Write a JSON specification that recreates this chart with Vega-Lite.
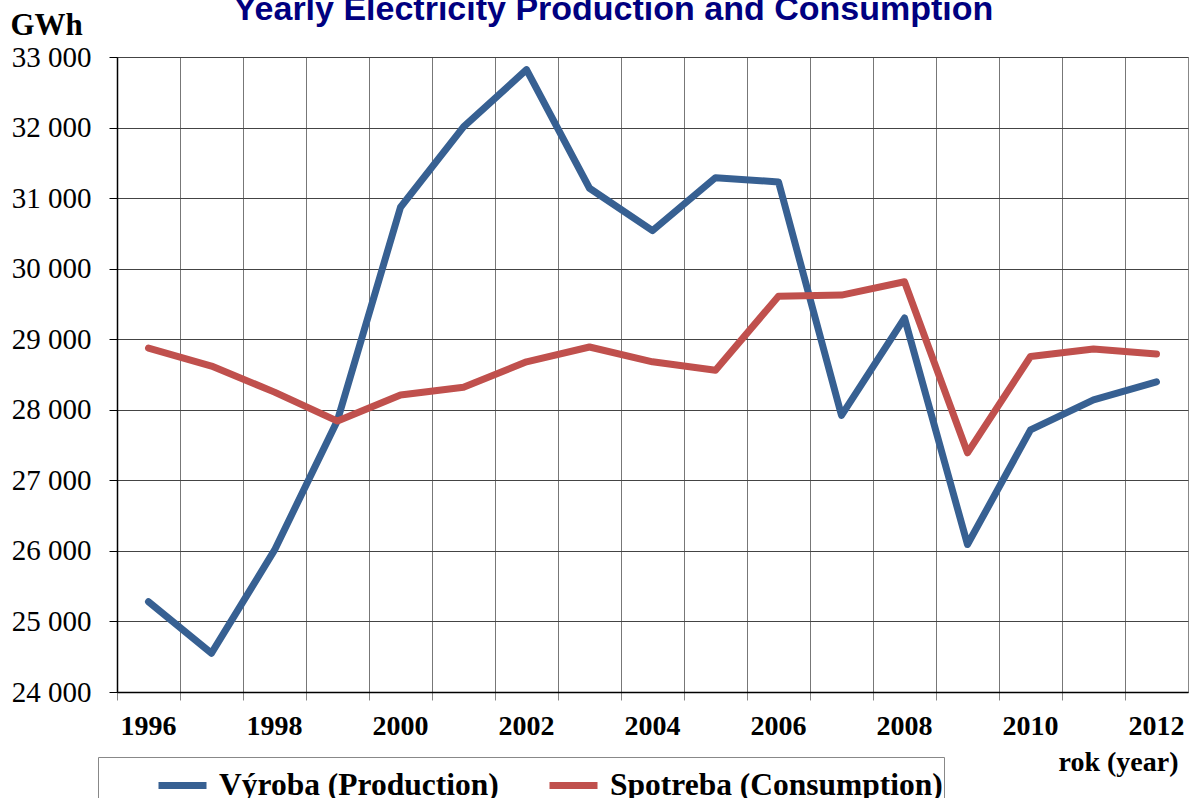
{
  "$schema": "https://vega.github.io/schema/vega-lite/v6.json",
  "width": 1071,
  "height": 635,
  "autosize": {"type": "none"},
  "padding": {"left": 117, "top": 57, "right": 1, "bottom": 106},
  "background": "white",
  "config": {
    "view": {"stroke": "#888888", "strokeWidth": 1}
  },
  "title": {
    "text": "Yearly Electricity Production and Consumption",
    "font": "Liberation Sans, Arial, sans-serif",
    "fontSize": 34,
    "fontWeight": "bold",
    "color": "#000080",
    "anchor": "middle",
    "dx": -39,
    "baseline": "alphabetic",
    "offset": -45
  },
  "data": {
    "values": [
      {"year": 1996, "series": "Výroba (Production)", "value": 25280},
      {"year": 1997, "series": "Výroba (Production)", "value": 24550},
      {"year": 1998, "series": "Výroba (Production)", "value": 26010},
      {"year": 1999, "series": "Výroba (Production)", "value": 27850},
      {"year": 2000, "series": "Výroba (Production)", "value": 30870},
      {"year": 2001, "series": "Výroba (Production)", "value": 32010},
      {"year": 2002, "series": "Výroba (Production)", "value": 32820},
      {"year": 2003, "series": "Výroba (Production)", "value": 31140},
      {"year": 2004, "series": "Výroba (Production)", "value": 30540},
      {"year": 2005, "series": "Výroba (Production)", "value": 31290},
      {"year": 2006, "series": "Výroba (Production)", "value": 31230},
      {"year": 2007, "series": "Výroba (Production)", "value": 27920},
      {"year": 2008, "series": "Výroba (Production)", "value": 29300},
      {"year": 2009, "series": "Výroba (Production)", "value": 26090},
      {"year": 2010, "series": "Výroba (Production)", "value": 27715},
      {"year": 2011, "series": "Výroba (Production)", "value": 28140},
      {"year": 2012, "series": "Výroba (Production)", "value": 28395},
      {"year": 1996, "series": "Spotreba (Consumption)", "value": 28875},
      {"year": 1997, "series": "Spotreba (Consumption)", "value": 28620},
      {"year": 1998, "series": "Spotreba (Consumption)", "value": 28250},
      {"year": 1999, "series": "Spotreba (Consumption)", "value": 27840},
      {"year": 2000, "series": "Spotreba (Consumption)", "value": 28210},
      {"year": 2001, "series": "Spotreba (Consumption)", "value": 28320},
      {"year": 2002, "series": "Spotreba (Consumption)", "value": 28680},
      {"year": 2003, "series": "Spotreba (Consumption)", "value": 28890},
      {"year": 2004, "series": "Spotreba (Consumption)", "value": 28680},
      {"year": 2005, "series": "Spotreba (Consumption)", "value": 28560},
      {"year": 2006, "series": "Spotreba (Consumption)", "value": 29610},
      {"year": 2007, "series": "Spotreba (Consumption)", "value": 29626},
      {"year": 2008, "series": "Spotreba (Consumption)", "value": 29815},
      {"year": 2009, "series": "Spotreba (Consumption)", "value": 27390},
      {"year": 2010, "series": "Spotreba (Consumption)", "value": 28755},
      {"year": 2011, "series": "Spotreba (Consumption)", "value": 28860},
      {"year": 2012, "series": "Spotreba (Consumption)", "value": 28790}
    ]
  },
  "mark": {"type": "line", "strokeWidth": 7, "strokeCap": "round", "strokeJoin": "round"},
  "encoding": {
    "x": {
      "field": "year",
      "type": "ordinal",
      "scale": {"type": "band", "paddingInner": 0, "paddingOuter": 0},
      "axis": {
        "bandPosition": 0,
        "labelExpr": "datum.value % 2 == 0 ? datum.label : ''",
        "labelOverlap": false,
        "labelBound": false,
        "labelAngle": 0,
        "labelFont": "Liberation Serif, Times New Roman, serif",
        "labelFontSize": 28,
        "labelFontWeight": "bold",
        "labelColor": "#000000",
        "labelPadding": 12,
        "tickSize": 8,
        "tickColor": "#888888",
        "grid": true,
        "gridColor": "#777777",
        "gridWidth": 1,
        "domainColor": "#000000",
        "domainWidth": 1.5,
        "title": "rok (year)",
        "titleFont": "Liberation Serif, Times New Roman, serif",
        "titleFontSize": 28,
        "titleFontWeight": "bold",
        "titleColor": "#000000",
        "titleAlign": "right",
        "titleBaseline": "alphabetic",
        "titleAnchor": null,
        "titleX": 1061,
        "titleY": 78
      }
    },
    "y": {
      "field": "value",
      "type": "quantitative",
      "scale": {"domain": [24000, 33000], "nice": false, "zero": false},
      "axis": {
        "values": [24000, 25000, 26000, 27000, 28000, 29000, 30000, 31000, 32000, 33000],
        "labelExpr": "replace(format(datum.value, ','), ',', ' ')",
        "labelFont": "Liberation Serif, Times New Roman, serif",
        "labelFontSize": 29,
        "labelColor": "#000000",
        "labelPadding": 18,
        "tickSize": 8,
        "tickColor": "#000000",
        "grid": true,
        "gridColor": "#444444",
        "gridWidth": 1,
        "domainColor": "#000000",
        "domainWidth": 1.5,
        "title": "GWh",
        "titleFont": "Liberation Serif, Times New Roman, serif",
        "titleFontSize": 31,
        "titleFontWeight": "bold",
        "titleColor": "#000000",
        "titleAngle": 0,
        "titleAlign": "left",
        "titleBaseline": "middle",
        "titleAnchor": null,
        "titleX": -107,
        "titleY": -32
      }
    },
    "color": {
      "field": "series",
      "type": "nominal",
      "scale": {
        "domain": ["Výroba (Production)", "Spotreba (Consumption)"],
        "range": ["#376092", "#C0504D"]
      },
      "legend": {
        "title": "\u2003",
        "titleOrient": "left",
        "titleFontSize": 10,
        "titlePadding": 56,
        "orient": "none",
        "legendX": -19,
        "legendY": 700,
        "direction": "horizontal",
        "strokeColor": "#888888",
        "padding": 1,
        "symbolType": "stroke",
        "symbolSize": 2304,
        "symbolStrokeWidth": 7,
        "labelFont": "Liberation Serif, Times New Roman, serif",
        "labelFontSize": 31.5,
        "labelFontWeight": "bold",
        "labelColor": "#000000",
        "labelLimit": 600,
        "labelOffset": 9,
        "columnPadding": 36
      }
    }
  }
}
